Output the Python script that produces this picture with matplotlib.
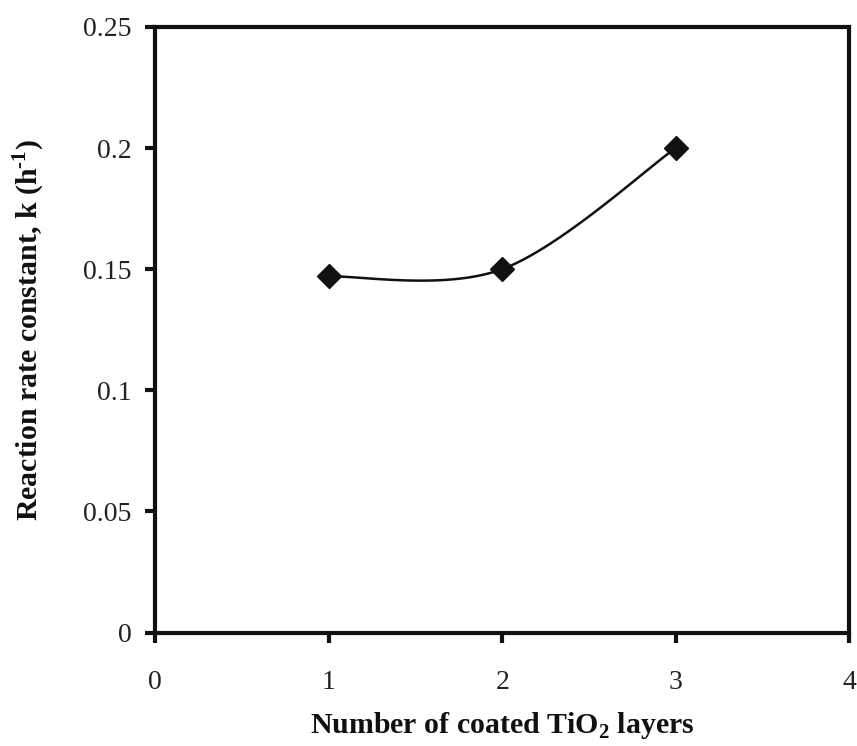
import numpy as np
import matplotlib.pyplot as plt

# rate constant vs. number of TiO2 layers
layers = [1, 2, 3]
rate_k = [0.147, 0.150, 0.200]

plt.rcParams['font.family'] = ['Liberation Serif', 'DejaVu Serif']
plt.rcParams['mathtext.fontset'] = 'custom'
plt.rcParams['mathtext.rm'] = 'Liberation Serif'
plt.rcParams['mathtext.bf'] = 'Liberation Serif:bold'


def smooth_curve(xs, ys, n=60):
    # Bezier smoothing through the points (same idea as a spreadsheet "smoothed line")
    xs = np.asarray(xs, float)
    ys = np.asarray(ys, float)
    pts = np.column_stack([xs, ys])
    out = []
    for i in range(len(pts) - 1):
        p0 = pts[i - 1] if i > 0 else pts[i]
        p1 = pts[i]
        p2 = pts[i + 1]
        p3 = pts[i + 2] if i + 2 < len(pts) else pts[i + 1]
        c1 = p1 + (p2 - p0) / 6.0
        c2 = p2 - (p3 - p1) / 6.0
        t = np.linspace(0, 1, n)[:, None]
        seg = ((1 - t) ** 3) * p1 + 3 * ((1 - t) ** 2) * t * c1 + 3 * (1 - t) * t ** 2 * c2 + t ** 3 * p2
        out.append(seg)
    curve = np.vstack(out)
    return curve[:, 0], curve[:, 1]


fig = plt.figure(figsize=(8.57, 7.46), dpi=100)
ax = fig.add_axes([0.181, 0.152, 0.810, 0.812])

cx, cy = smooth_curve(layers, rate_k)
ax.plot(cx, cy, color='#111111', lw=1.8, zorder=2)
ax.plot(layers, rate_k, linestyle='none', marker='D', markersize=12,
        color='#111111', zorder=3)

ax.set_xlim(0, 4)
ax.set_ylim(0, 0.25)
ax.set_xticks([0, 1, 2, 3, 4])
ax.set_xticklabels(['0', '1', '2', '3', '4'])
ax.set_yticks([0, 0.05, 0.1, 0.15, 0.2, 0.25])
ax.set_yticklabels(['0', '0.05', '0.1', '0.15', '0.2', '0.25'])

for s in ax.spines.values():
    s.set_linewidth(3)
    s.set_color('#111111')

ax.tick_params(axis='both', direction='out', length=7, width=3,
               labelsize=20, colors='#111111', labelcolor='#222222')
ax.tick_params(axis='x', pad=20)
ax.tick_params(axis='y', pad=10)

ax.set_xlabel('Number of coated TiO$_\\mathbf{2}$ layers', fontsize=21.5,
              fontweight='bold', labelpad=11, color='#111111')
ax.set_ylabel('Reaction rate constant, k (h$^\\mathbf{\u20101}$)', fontsize=21.5,
              fontweight='bold', labelpad=26, color='#111111')

fig.savefig('out.png', dpi=100)
